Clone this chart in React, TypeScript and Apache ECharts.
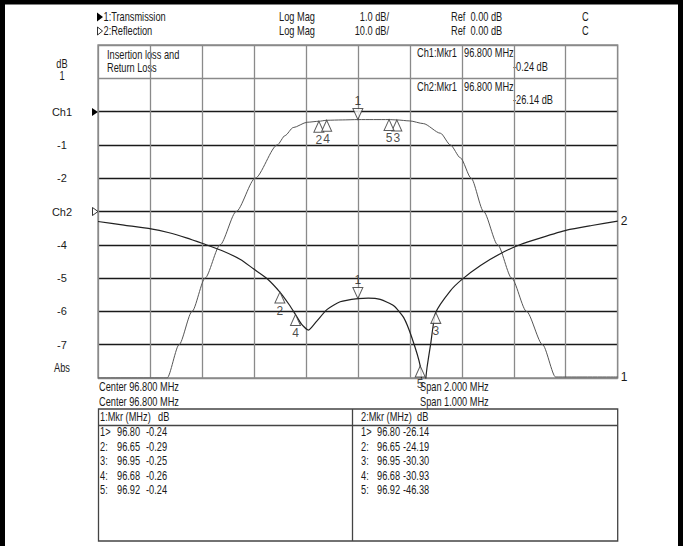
import React, { useEffect, useRef } from "react";
import * as echarts from "echarts";

// ---- data ----
const ch1Freq = [95.8, 96.066, 96.112, 96.162, 96.212, 96.27, 96.332, 96.405, 96.49, 96.52, 96.551, 96.605, 96.65, 96.68, 96.74, 96.8, 96.86, 96.92, 96.95, 97.0, 97.052, 97.118, 97.156, 97.195, 97.236, 97.284, 97.338, 97.392, 97.449, 97.511, 97.561, 97.8];
const ch1Db = [-8, -8, -7, -6, -5, -4, -3, -2, -1, -0.72, -0.48, -0.32, -0.29, -0.26, -0.25, -0.24, -0.24, -0.24, -0.25, -0.28, -0.36, -0.65, -1.0, -1.39, -2, -3, -4, -5, -6, -7, -7.97, -7.97];

const ch2Freq = [96.3, 96.35, 96.402, 96.435, 96.47, 96.503, 96.538, 96.574, 96.599, 96.625, 96.65, 96.668, 96.68, 96.692, 96.705, 96.721, 96.741, 96.766, 96.8, 96.82, 96.843, 96.869, 96.888, 96.904, 96.92, 96.926, 96.933, 96.94, 96.95, 96.978, 97.001, 97.036, 97.075, 97.113, 97.152, 97.202, 97.25, 97.3];
const ch2Db = [-3.0, -4.1, -5.2, -6.3, -7.9, -9.7, -11.7, -14.4, -17.2, -20.1, -24.19, -28.0, -30.93, -33.9, -35.6, -32.9, -29.4, -27.1, -26.14, -26.0, -26.4, -28.3, -31.8, -37.9, -46.38, -56, -47, -39.9, -30.3, -23.8, -20.3, -16.2, -12.6, -9.9, -7.9, -5.6, -4.2, -2.9];

const markerIds = ["1", "2", "3", "4", "5"];
const mkrFreq = [96.8, 96.65, 96.95, 96.68, 96.92];
const ch1MkrDb = [-0.24, -0.29, -0.25, -0.26, -0.24];
const ch2MkrDb = [-26.14, -24.19, -30.3, -30.93, -46.38];

const yTickValues = [0, -1, -2, -3, -4, -5, -6, -7];
const yTickLabels = ["Ch1", "-1", "-2", "Ch2", "-4", "-5", "-6", "-7"];

const ch1Center = 96.8;
const ch1Span = 2.0;
const ch2Center = 96.8;
const ch2Span = 1.0;
const ch1Scale = 1.0;
const ch2Scale = 10.0;
const refLevel = 0.0;

const FONT = "'Liberation Sans', Arial, sans-serif";
const TXT = "#1a1a1a";
const NARROW = 0.77;

const zip = (a: number[], b: number[]) => a.map((v, i) => [v, b[i]]);

function markerData(dbs: number[]) {
  return mkrFreq.map((f, i) => ({
    value: [f, dbs[i]],
    name: markerIds[i],
    symbolRotate: i === 0 ? 180 : 0,
    symbolOffset: i === 0 ? [0, "-50%"] : [0, "50%"],
    label: { position: i === 0 ? "top" : "bottom" },
  }));
}

function txt(text: string, x: number, y: number, extra: any = {}) {
  return {
    type: "text",
    x,
    y,
    scaleX: NARROW,
    silent: true,
    style: {
      text,
      fill: TXT,
      fontFamily: FONT,
      fontSize: 12,
      verticalAlign: "middle",
      align: "left",
      ...extra,
    },
  };
}

export default function App() {
  const ref = useRef<HTMLDivElement>(null);
  useEffect(() => {
    if (!ref.current) return;
    const chart = echarts.init(ref.current, undefined, { renderer: "svg" });

    const gridL = 98, gridR = 617.7, gridT = 45, gridB = 378;
    const tblT = 409, tblB = 541, tblMid = 352.5;
    const rowY = [432, 446.5, 461, 475.5, 490];

    const graphic: any[] = [
      // outer frame
      { type: "rect", shape: { x: 2.5, y: 2, width: 678, height: 570 }, style: { fill: "none", stroke: "#000", lineWidth: 5 }, silent: true },
      // header
      { type: "polygon", shape: { points: [[97, 12.5], [97, 21.5], [103, 17]] }, style: { fill: "#000" }, silent: true },
      txt("1:Transmission", 103.5, 17),
      { type: "polygon", shape: { points: [[97.5, 27], [97.5, 35], [102.5, 31]] }, style: { fill: "#fff", stroke: "#000", lineWidth: 0.8 }, silent: true },
      txt("2:Reflection", 103.5, 31),
      txt("Log Mag", 279, 17),
      txt("Log Mag", 279, 31),
      txt(`${ch1Scale.toFixed(1)} dB/`, 389, 17, { align: "right" }),
      txt(`${ch2Scale.toFixed(1)} dB/`, 389, 31, { align: "right" }),
      txt(`Ref  ${refLevel.toFixed(2)} dB`, 451, 17),
      txt(`Ref  ${refLevel.toFixed(2)} dB`, 451, 31),
      txt("C", 582, 17),
      txt("C", 582, 31),
      // left axis extras
      txt("dB", 62, 64, { align: "center" }),
      txt("1", 62, 75.5, { align: "center" }),
      txt("Abs", 62, 368, { align: "center" }),
      { type: "polygon", shape: { points: [[92, 108], [92, 116], [98, 112]] }, style: { fill: "#000" }, silent: true },
      { type: "polygon", shape: { points: [[92.5, 207.5], [92.5, 215.5], [98, 211.5]] }, style: { fill: "#fff", stroke: "#000", lineWidth: 0.8 }, silent: true },
      // cell texts
      txt("Insertion loss and", 107, 54.5),
      txt("Return Loss", 107, 67.5),
      txt("Ch1:Mkr1", 417, 53),
      txt(`${mkrFreq[0].toFixed(3)} MHz`, 464, 53),
      txt(`${ch1MkrDb[0].toFixed(2)} dB`, 513, 66.5),
      txt("Ch2:Mkr1", 417, 87),
      txt(`${mkrFreq[0].toFixed(3)} MHz`, 464, 87),
      txt(`${ch2MkrDb[0].toFixed(2)} dB`, 513, 99.5),
      // below grid
      txt(`Center ${ch1Center.toFixed(3)} MHz`, 99, 387),
      txt(`Center ${ch2Center.toFixed(3)} MHz`, 99, 402),
      txt(`Span ${ch1Span.toFixed(3)} MHz`, 420, 387),
      txt(`Span ${ch2Span.toFixed(3)} MHz`, 420, 402),
      // marker table
      { type: "rect", shape: { x: gridL + 0.5, y: tblT, width: gridR - gridL - 0.5, height: tblB - tblT }, style: { fill: "none", stroke: "#444", lineWidth: 1.3 }, silent: true },
      { type: "line", shape: { x1: gridL + 0.5, y1: 425.5, x2: gridR, y2: 425.5 }, style: { stroke: "#444", lineWidth: 1.3 }, silent: true },
      { type: "line", shape: { x1: tblMid, y1: tblT, x2: tblMid, y2: tblB }, style: { stroke: "#444", lineWidth: 1.3 }, silent: true },
      txt("1:Mkr (MHz)", 100, 417),
      txt("dB", 158, 417),
      txt("2:Mkr (MHz)", 361, 417),
      txt("dB", 417, 417),
    ];
    markerIds.forEach((id, i) => {
      const prefix = i === 0 ? `${id}>` : `${id}:`;
      graphic.push(txt(prefix, 100, rowY[i]));
      graphic.push(txt(mkrFreq[i].toFixed(2), 117, rowY[i]));
      graphic.push(txt(ch1MkrDb[i].toFixed(2), 146, rowY[i]));
      graphic.push(txt(prefix, 361, rowY[i]));
      graphic.push(txt(mkrFreq[i].toFixed(2), 377, rowY[i]));
      graphic.push(txt(ch2MkrDb[i].toFixed(2), 403, rowY[i]));
    });

    const hLineColors = ["#8a8a8a", "#1a1a1a", "#1a1a1a", "#1a1a1a", "#1a1a1a", "#1a1a1a", "#1a1a1a", "#1a1a1a", "#1a1a1a", "#8a8a8a", "#8a8a8a"];

    const markerLabel = { show: true, formatter: (p: any) => p.name, color: TXT, fontFamily: FONT, fontSize: 12, distance: 1 };

    chart.setOption({
      animation: false,
      backgroundColor: "#fff",
      textStyle: { fontFamily: FONT },
      grid: { left: gridL, right: 685 - gridR, top: gridT, bottom: 546 - gridB, show: true, borderColor: "#8a8a8a", borderWidth: 1.3 },
      xAxis: [
        {
          type: "value",
          min: 95.8,
          max: 97.8,
          interval: 0.2,
          axisLine: { show: false },
          axisTick: { show: false },
          axisLabel: { show: false },
          splitLine: { show: true, lineStyle: { color: "#8a8a8a", width: 1.3 } },
        },
        { type: "value", min: 96.3, max: 97.3, show: false, splitLine: { show: false } },
      ],
      yAxis: [
        {
          type: "value",
          min: -8,
          max: 2,
          interval: 1,
          axisLine: { show: false },
          axisTick: { show: false },
          axisLabel: {
            show: true,
            align: "center",
            margin: 36,
            color: TXT,
            fontSize: 11,
            fontFamily: FONT,
            formatter: (v: number) => {
              const i = yTickValues.indexOf(v);
              return i >= 0 ? yTickLabels[i] : "";
            },
          },
          splitLine: { show: true, lineStyle: { color: hLineColors, width: 1.4 } },
        },
        { type: "value", min: -50, max: 50, show: false, splitLine: { show: false } },
      ],
      graphic,
      series: [
        {
          type: "line",
          name: "Transmission",
          xAxisIndex: 0,
          yAxisIndex: 0,
          data: zip(ch1Freq, ch1Db),
          showSymbol: false,
          symbol: "none",
          smooth: 0.25,
          smoothMonotone: "x",
          lineStyle: { color: "#555", width: 1 },
          endLabel: { show: true, formatter: "1", color: TXT, fontFamily: FONT, fontSize: 12, distance: 3 },
          z: 3,
        },
        {
          type: "line",
          name: "Reflection",
          xAxisIndex: 1,
          yAxisIndex: 1,
          data: zip(ch2Freq, ch2Db),
          showSymbol: false,
          symbol: "none",
          smooth: 0.2,
          lineStyle: { color: "#222", width: 1.2 },
          endLabel: { show: true, formatter: "2", color: TXT, fontFamily: FONT, fontSize: 12, distance: 3 },
          z: 3,
        },
        {
          type: "scatter",
          xAxisIndex: 0,
          yAxisIndex: 0,
          symbol: "triangle",
          symbolSize: [10, 11],
          itemStyle: { color: "#fff", borderColor: "#333", borderWidth: 1 },
          label: markerLabel,
          data: markerData(ch1MkrDb),
          z: 4,
        },
        {
          type: "scatter",
          xAxisIndex: 1,
          yAxisIndex: 1,
          symbol: "triangle",
          symbolSize: [10, 11],
          itemStyle: { color: "#fff", borderColor: "#333", borderWidth: 1 },
          label: markerLabel,
          data: markerData(ch2MkrDb),
          clip: false,
          z: 4,
        },
      ],
    });
    return () => chart.dispose();
  }, []);
  return <div ref={ref} style={{ position: "fixed", left: 0, top: 0, width: 685, height: 546 }} />;
}
